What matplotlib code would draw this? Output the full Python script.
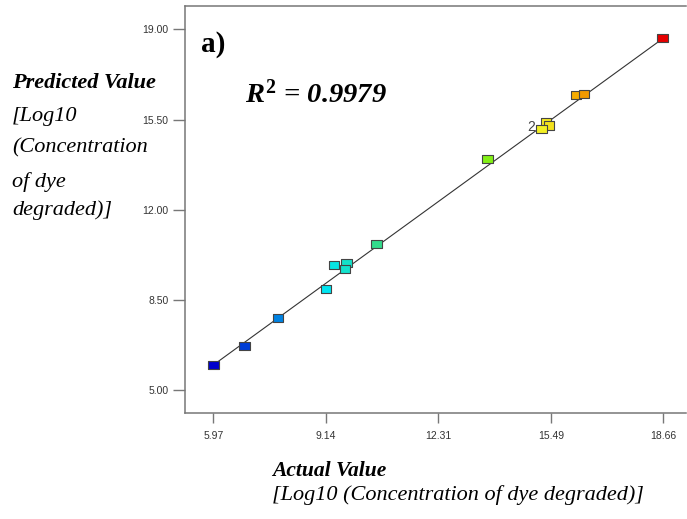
import matplotlib
matplotlib.use("Agg")
import matplotlib.pyplot as plt
import numpy as np
from matplotlib.colors import LinearSegmentedColormap
from matplotlib.ticker import FixedLocator, FormatStrFormatter

# actual vs predicted values (log10 concentration of dye degraded)
actual = [5.97, 6.84, 7.79, 9.15, 9.37, 9.73, 9.68, 10.57, 13.70, 15.35, 15.44, 15.23, 16.20, 16.42, 18.64]
predicted = [5.97, 6.72, 7.79, 8.92, 9.85, 9.93, 9.69, 10.67, 13.97, 15.42, 15.27, 15.15, 16.47, 16.50, 18.66]
x_ticks = [5.97, 9.14, 12.31, 15.49, 18.66]
y_ticks = [5.00, 8.50, 12.00, 15.50, 19.00]
r2 = 0.9979
dup_index = 11  # this run is repeated twice

plt.rcParams["mathtext.fontset"] = "custom"
plt.rcParams["mathtext.rm"] = "Liberation Serif:bold"
plt.rcParams["mathtext.it"] = "Liberation Serif:bold:italic"
plt.rcParams["mathtext.bf"] = "Liberation Serif:bold"

# blue -> cyan -> green -> yellow -> red scale like the design software
scale = LinearSegmentedColormap.from_list("de", [
    (0.00, (0.00, 0.00, 0.80)),
    (0.25, (0.00, 0.90, 0.95)),
    (0.36, (0.20, 0.86, 0.55)),
    (0.60, (0.47, 0.94, 0.08)),
    (0.73, (0.95, 0.95, 0.15)),
    (0.80, (0.96, 0.70, 0.00)),
    (1.00, (0.90, 0.00, 0.00)),
])

W, H = 687, 519
fig = plt.figure(figsize=(W / 100, H / 100), dpi=100)
ax = fig.add_axes([185 / W, 1 - 413 / H, 501 / W, (413 - 6) / H])

ax.set_xlim(5.17, 19.30)
ax.set_ylim(4.105, 19.91)

# y = x reference line
lo, hi = min(actual), max(actual)
ax.plot([lo, hi], [lo, hi], color="#333333", lw=0.8, zorder=1)

rect = [(-1.33, -1), (1.33, -1), (1.33, 1), (-1.33, 1), (-1.33, -1)]
ax.scatter(actual, predicted, c=actual, cmap=scale, vmin=min(actual), vmax=max(actual),
           marker=rect, s=7.7 ** 2, edgecolors="#444444", linewidths=0.8, zorder=3)
ax.annotate("2", (actual[dup_index], predicted[dup_index]), xytext=(-5, 1),
            textcoords="offset points", ha="right", va="center",
            fontsize=10, color="#444444", family="Liberation Sans")

ax.xaxis.set_major_locator(FixedLocator(x_ticks))
ax.yaxis.set_major_locator(FixedLocator(y_ticks))
ax.xaxis.set_major_formatter(FormatStrFormatter("%.2f"))
ax.yaxis.set_major_formatter(FormatStrFormatter("%.2f"))
ax.tick_params(axis="x", length=7, width=1, color="#777777", pad=6,
               labelsize=7.5, labelcolor="#333333")
ax.tick_params(axis="y", length=9, width=1, color="#777777", pad=3,
               labelsize=7.5, labelcolor="#333333")
for lab in ax.get_xticklabels() + ax.get_yticklabels():
    lab.set_family("Liberation Sans")

ax.spines["right"].set_visible(False)
for side in ["left", "bottom", "top"]:
    ax.spines[side].set_color("#777777")
    ax.spines[side].set_linewidth(1.1)


def px_text(x, y, s, **kw):
    fig.text(x / W, 1 - y / H, s, family="Liberation Serif", va="baseline", ha="left", **kw)


px_text(201, 52, "a)", fontsize=21, weight="bold")
px_text(245, 103, f"$R^{{2}}$ = {r2:.4f}", fontsize=20.5, weight="bold", style="italic")

# y axis title, stacked on the left
px_text(12, 88, "Predicted Value", fontsize=16, weight="bold", style="italic")
for yy, line in zip([121.5, 152, 186.5, 215],
                    ["[Log10", "(Concentration", "of dye", "degraded)]"]):
    px_text(12, yy, line, fontsize=16, style="italic")

# x axis title
px_text(272, 476, "Actual Value", fontsize=15.5, weight="bold", style="italic")
px_text(272, 500, "[Log10 (Concentration of dye degraded)]", fontsize=16, style="italic")

fig.savefig("out.png", dpi=100)
